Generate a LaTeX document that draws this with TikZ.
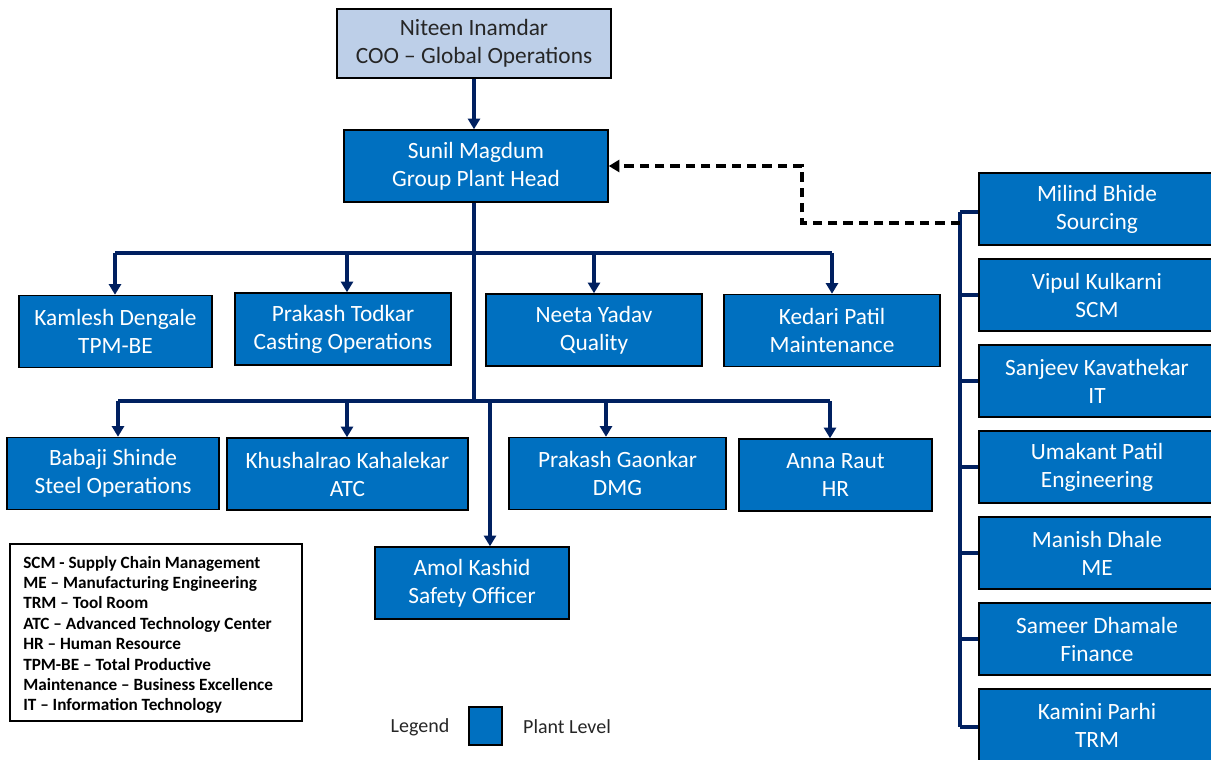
\documentclass[tikz,border=0pt]{standalone}
\usepackage{fontspec}
\setmainfont{Carlito}
\usetikzlibrary{arrows.meta}
\definecolor{plant-blue}{RGB}{0,112,192}
\definecolor{coo-blue}{RGB}{189,207,232}
\definecolor{line-navy}{RGB}{0,32,96}
\definecolor{text-dark}{RGB}{38,38,38}

\begin{document}
\begin{tikzpicture}[
    x=0.75pt, y=-0.75pt,
    head/.style={rectangle, draw=black, line width=1.1pt, fill=coo-blue, text=text-dark, align=center, font=\fontsize{17.5}{21}\selectfont, inner sep=0pt},
    plant/.style={rectangle, draw=black, line width=1.1pt, fill=plant-blue, text=white, align=center, font=\fontsize{17.5}{21}\selectfont, inner sep=0pt, minimum height=54pt},
    sidebox/.style={plant, minimum width=177pt},
    conn/.style={line-navy, line width=3pt},
    arrow/.style={conn, -{Triangle[length=8pt,width=9pt]}},
    link/.style={black, line width=2.3pt, dash pattern=on 7pt off 4.5pt, -{Triangle[length=8pt,width=9pt]}}
]
    \useasboundingbox (0,0) rectangle (1211,760);

    % Top
    \node[head, minimum width=205.5pt, minimum height=51.75pt] (coo) at (474,43.5) {Niteen Inamdar\\COO -- Global Operations};
    \node[plant, minimum width=198pt] (gph) at (476,166) {Sunil Magdum\\Group Plant Head};

    % First row
    \node[plant, minimum width=144.75pt] (tpm) at (115.5,331.5) {Kamlesh Dengale\\TPM-BE};
    \node[plant, minimum width=162pt] (cast) at (343,329) {Prakash Todkar\\Casting Operations};
    \node[plant, minimum width=162pt] (qual) at (594,330) {Neeta Yadav\\Quality};
    \node[plant, minimum width=162pt] (maint) at (832,330.5) {Kedari Patil\\Maintenance};

    % Second row
    \node[plant, minimum width=159pt] (steel) at (113,473.5) {Babaji Shinde\\Steel Operations};
    \node[plant, minimum width=180.75pt] (atc) at (347.5,474) {Khushalrao Kahalekar\\ATC};
    \node[plant, minimum width=162.75pt] (dmg) at (617.5,473.5) {Prakash Gaonkar\\DMG};
    \node[plant, minimum width=144.75pt] (hr) at (835.5,475) {Anna Raut\\HR};
    \node[plant, minimum width=145.5pt] (safety) at (472,583) {Amol Kashid\\Safety Officer};

    % Right column
    \node[sidebox] (src) at (1097,209) {Milind Bhide\\Sourcing};
    \node[sidebox] (scm) at (1097,295) {Vipul Kulkarni\\SCM};
    \node[sidebox] (it) at (1097,381) {Sanjeev Kavathekar\\IT};
    \node[sidebox] (eng) at (1097,467) {Umakant Patil\\Engineering};
    \node[sidebox] (me) at (1097,553) {Manish Dhale\\ME};
    \node[sidebox] (fin) at (1097,639) {Sameer Dhamale\\Finance};
    \node[sidebox] (trm) at (1097,725) {Kamini Parhi\\TRM};

    % Abbreviations
    \node[draw=black, line width=1.1pt, minimum width=219pt, minimum height=132.75pt, inner sep=0pt] (abbr) at (156,632.5) {};
    \node[anchor=west, align=left, inner sep=0pt, text=black, font=\bfseries\fontsize{12.9}{15.3}\selectfont] (abbrtext) at (23,635) {SCM - Supply Chain Management\\ME -- Manufacturing Engineering\\TRM -- Tool Room\\ATC -- Advanced Technology Center\\HR -- Human Resource\\TPM-BE -- Total Productive\\Maintenance -- Business Excellence\\IT -- Information Technology};

    % Legend
    \node[text=text-dark, font=\fontsize{15}{18}\selectfont] (legtext) at (420,727) {Legend};
    \node[draw=black, line width=1.1pt, fill=plant-blue, minimum width=24.75pt, minimum height=28.5pt, inner sep=0pt] (legbox) at (485.5,726) {};
    \node[text=text-dark, font=\fontsize{15}{18}\selectfont] (plantlvl) at (567,727) {Plant Level};

    % Buses
    \coordinate (bus1) at (474,253);
    \coordinate (bus2) at (474,401);
    \coordinate (a1) at (115,253);
    \coordinate (a2) at (347,253);
    \coordinate (a3) at (594,253);
    \coordinate (a4) at (832,253);
    \coordinate (b1) at (118,401);
    \coordinate (b2) at (347,401);
    \coordinate (b3) at (490,401);
    \coordinate (b4) at (606,401);
    \coordinate (b5) at (830,401);
    \coordinate (coltop) at (960,212);
    \coordinate (colbot) at (960,727);
    \coordinate (dashstart) at (960,223);

    % Lines
    \draw[arrow] (coo) -- (coo.south |- gph.north);
    \draw[conn] (gph.south -| bus1) -- (bus2);
    \draw[conn] (a1) -- (a4);
    \draw[conn] (b1) -- (b5);
    \draw[arrow] (a1) -- (a1 |- tpm.north);
    \draw[arrow] (a2) -- (a2 |- cast.north);
    \draw[arrow] (a3) -- (a3 |- qual.north);
    \draw[arrow] (a4) -- (a4 |- maint.north);
    \draw[arrow] (b1) -- (b1 |- steel.north);
    \draw[arrow] (b2) -- (b2 |- atc.north);
    \draw[arrow] (b3) -- (b3 |- safety.north);
    \draw[arrow] (b4) -- (b4 |- dmg.north);
    \draw[arrow] (b5) -- (b5 |- hr.north);

    % Right column lines
    \draw[conn] (coltop) -- (colbot);
    \draw[conn] (coltop) -- (coltop -| src.west);
    \draw[conn] (scm.west -| coltop) -- (scm.west);
    \draw[conn] (it.west -| coltop) -- (it.west);
    \draw[conn] (eng.west -| coltop) -- (eng.west);
    \draw[conn] (me.west -| coltop) -- (me.west);
    \draw[conn] (fin.west -| coltop) -- (fin.west);
    \draw[conn] (colbot) -- (colbot -| trm.west);

    % Dashed link
    \draw[link] (dashstart) -- (802,223) -- (802,166) -- (gph.east);
\end{tikzpicture}
\end{document}
